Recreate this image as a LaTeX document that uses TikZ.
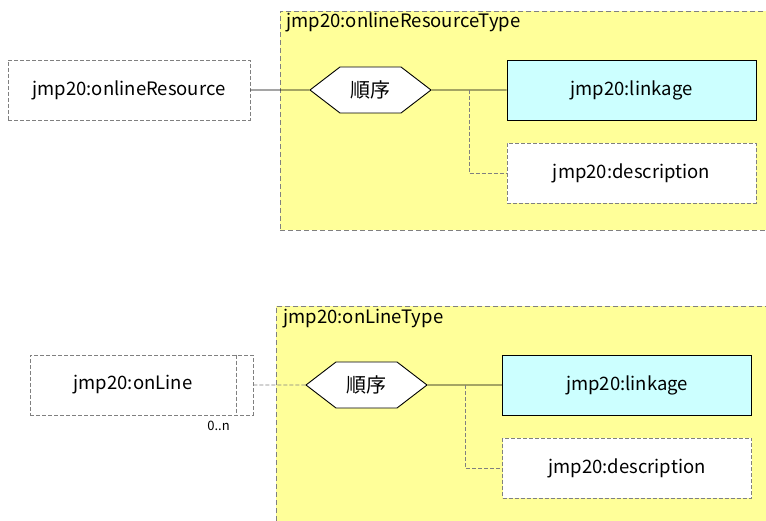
\documentclass[tikz,border=0pt]{standalone}
\usepackage{fontspec}
\setmainfont{Noto Sans CJK JP}
\usetikzlibrary{shapes.symbols}
\definecolor{typefill}{HTML}{FFFF99}
\definecolor{reqfill}{HTML}{CCFFFF}
\definecolor{optline}{HTML}{808080}
\begin{document}
\begin{tikzpicture}[x=1pt,y=-1pt,line width=0.9pt,
	every node/.style={font=\fontsize{18.5}{22}\selectfont},
	typebox/.style={fill=typefill,draw=optline,dash pattern=on 5pt off 3pt,anchor=north west,inner sep=0},
	elem/.style={draw,minimum width=249pt,minimum height=60pt,inner sep=0},
	optelem/.style={elem,draw=optline,dash pattern=on 4pt off 2pt,fill=white},
	reqelem/.style={elem,fill=reqfill},
	seqnode/.style={signal,signal to=west and east,signal pointer angle=75,draw,fill=white,minimum width=121pt,minimum height=46pt,inner sep=0,font=\fontsize{20}{24}\selectfont},
	optwire/.style={draw=optline,dash pattern=on 4pt off 2pt}]
	\clip (0,0) rectangle (766,521);
	\fill[white] (0,0) rectangle (766,521);
	\node[typebox,minimum width=500pt,minimum height=219pt] (resType) at (280,11) {};
	\node[anchor=base west,inner sep=0] (resTitle) at (286,28) {jmp20:onlineResourceType};
	\node[optelem,minimum width=242pt] (onlineRes) at (129,90) {jmp20:onlineResource};
	\node[seqnode] (resSeq) at (370.5,90) {順序};
	\node[reqelem] (resLink) at (631.5,90) {jmp20:linkage};
	\node[optelem] (resDesc) at (631.5,173.5) {jmp20:description};
	\coordinate (resFork) at (469,90);
	\draw (onlineRes) -- (resSeq);
	\draw (resSeq) -- (resLink);
	\draw[optwire] (resFork) |- (resDesc);
	\node[typebox,minimum width=500pt,minimum height=230pt] (lineType) at (276,306) {};
	\node[anchor=base west,inner sep=0] (lineTitle) at (283,324) {jmp20:onLineType};
	\node[optelem,minimum width=223pt] (onLineBack) at (141.5,385) {};
	\node[elem,minimum width=206pt,draw=none] (onLine) at (133,385) {jmp20:onLine};
	\draw[optwire] (onLine.north east) -- (onLine.south east);
	\node[font=\fontsize{13}{15}\selectfont,inner sep=0] (onLineMult) at (218.5,426) {0..n};
	\node[seqnode] (lineSeq) at (366.5,385) {順序};
	\node[reqelem] (lineLink) at (627,385) {jmp20:linkage};
	\node[optelem] (lineDesc) at (627,468) {jmp20:description};
	\coordinate (lineFork) at (465,385);
	\draw[optwire] (onLineBack) -- (lineSeq);
	\draw (lineSeq) -- (lineLink);
	\draw[optwire] (lineFork) |- (lineDesc);
\end{tikzpicture}
\end{document}
